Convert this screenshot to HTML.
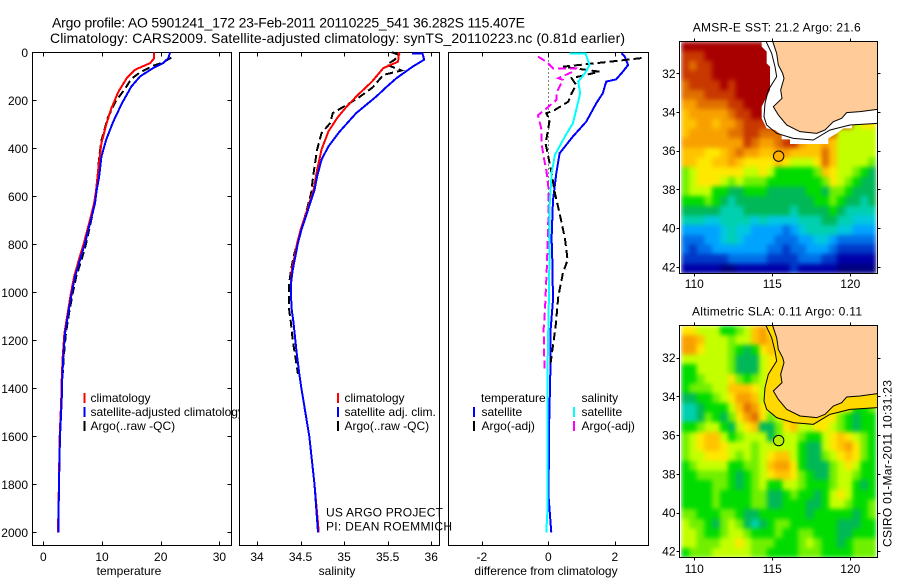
<!DOCTYPE html>
<html>
<head>
<meta charset="utf-8">
<title>Argo profile chart</title>
<style>
html,body{margin:0;padding:0;background:#fff;}
svg{display:block;}
text{font-family:"Liberation Sans",sans-serif;font-size:12px;fill:#000;}
</style>
</head>
<body>
<svg id="chart" xmlns="http://www.w3.org/2000/svg" width="900" height="580" viewBox="0 0 900 580">
<defs>
<filter id="soften" x="0" y="0" width="1" height="1" color-interpolation-filters="sRGB"><feGaussianBlur stdDeviation="2.4" edgeMode="duplicate"/></filter>
</defs>
<rect width="900" height="580" fill="#fff"/>
<g id="panels"></g>
<g id="maps"></g>
<text x="52" y="27.5" style="font-size:14px" textLength="473">Argo profile: AO 5901241_172 23-Feb-2011 20110225_541 36.282S 115.407E</text>
<text x="50" y="43" style="font-size:14px" textLength="575">Climatology: CARS2009. Satellite-adjusted climatology: synTS_20110223.nc (0.81d earlier)</text>
<text x="326" y="516.5" textLength="117">US ARGO PROJECT</text>
<text x="326" y="530.5" textLength="126">PI: DEAN ROEMMICH</text>
<text transform="translate(891.5,547) rotate(-90)" textLength="167">CSIRO 01-Mar-2011 10:31:23</text>
</svg>
<script>
// ---------- profile data ----------
const depthTicks = [0,200,400,600,800,1000,1200,1400,1600,1800,2000];
const tempTicks = [0,10,20,30];
const salTicks = [34,34.5,35,35.5,36];
const diffTicks = [-2,0,2];

const tempClimDepth = [0,25,45,73,108,164,233,303,380,477,574,629,685,740,796,865,935,1004,1086,1171,1268,1352,1450,1600,1800,2000];
const tempClimValue = [18.9,18.9,18.2,15.6,14.2,12.8,11.6,10.7,9.9,9.4,9.0,8.65,8.1,7.5,6.9,6.05,5.25,4.7,4.15,3.6,3.3,3.15,3.05,2.8,2.65,2.5];
const tempSatDepth = [0,25,45,66,100,143,212,289,365,435,520,574,629,685,740,796,865,935,1004,1086,1171,1268,1352,1450,1600,1800,2000];
const tempSatValue = [21.6,21.3,20.4,18.7,16.5,15,13.4,11.9,10.7,9.9,9.5,9.09,8.8,8.24,7.67,7.1,6.25,5.4,4.83,4.26,3.7,3.4,3.24,3.13,2.85,2.67,2.56];
const tempArgoDepth = [22,42,56,83,111,153,202,271,368,437,506,574,629,685,740,796,865,935,1004,1086,1171,1268,1340];
const tempArgoValue = [21.8,20.4,18.7,16.5,15,13.9,12.4,11,9.9,9.5,9.3,9.0,8.75,8.3,7.8,7.3,6.5,5.6,5.0,4.4,3.85,3.5,3.3];

const salClimDepth = [0,39,66,122,177,226,274,330,406,490,574,629,685,740,796,852,907,963,1018,1074,1129,1199,1268,1352,1400,1600,1800,2000];
const salClimValue = [35.63,35.62,35.45,35.32,35.16,35.03,34.92,34.82,34.74,34.69,34.65,34.6,34.55,34.5,34.46,34.43,34.40,34.39,34.39,34.40,34.42,34.44,34.46,34.49,34.51,34.6,34.66,34.71];
const salSatDepth = [4,6,31,59,108,150,184,253,330,392,448,517,574,629,685,740,796,852,907,963,1018,1074,1129,1199,1268,1352,1400,1600,1800,2000];
const salSatValue = [35.78,35.9,35.92,35.79,35.6,35.47,35.37,35.14,34.95,34.82,34.74,34.69,34.66,34.61,34.56,34.51,34.47,34.44,34.41,34.39,34.39,34.40,34.42,34.44,34.46,34.49,34.51,34.6,34.66,34.7];
const salArgoDepth = [0,11,31,52,76,94,146,191,243,253,295,337,406,503,590,685,740,796,852,907,963,1018,1074,1129,1199,1268,1340];
const salArgoValue = [35.55,35.63,35.58,35.49,35.66,35.45,35.33,35.16,34.92,34.87,34.84,34.74,34.69,34.65,34.62,34.55,34.5,34.46,34.42,34.39,34.37,34.37,34.37,34.39,34.41,34.44,34.47];

const diffTempSatDepth = [4,18,53,81,113,122,171,213,289,351,421,504,616,775,865,1032,1157,1338,1574,1852,1963,2000];
const diffTempSatValue = [2.2,2.3,2.4,2.24,2.04,1.74,1.64,1.44,1.14,0.74,0.34,0.24,0.14,0.1,0.12,0.14,0.07,0.06,0.02,0.01,0.07,0.09];
const diffSalSatDepth = [4,4,53,88,122,171,240,296,351,428,504,643,782,1000,1300,1600,1900,2000];
const diffSalSatValue = [0.64,1.12,1.24,1.1,0.9,0.96,0.84,0.74,0.5,0.2,0.1,0.04,0.04,0.02,-0.02,-0.02,-0.02,-0.06];
const diffTempArgoDepth = [24,40,60,81,108,136,171,206,240,254,282,317,380,435,504,587,671,775,865,920,1018,1143,1296];
const diffTempArgoValue = [2.8,1.8,0.44,1.54,0.7,0.84,0.7,0.6,0.2,-0.06,0.04,0,-0.08,0,0.1,0.2,0.34,0.5,0.58,0.44,0.3,0.22,0.07];
const diffSalArgoDepth = [18,39,67,67,81,108,115,171,199,234,262,324,380,435,490,560,700,879,1073,1157,1323];
const diffSalArgoValue = [-0.31,-0.06,0.14,0.84,0.74,0.3,0.44,0.24,0.24,-0.06,-0.31,-0.2,-0.2,-0.14,-0.06,0,0,-0.04,-0.1,-0.14,-0.11];

// ---------- map data (colour level per half-degree cell) ----------
const mapLonTicks = [110,115,120];
const mapLatTicks = [32,34,36,38,40,42];
const sstGrid = [
[16,16,16,16,16,16,16,16,16,16,16,16,16,16,16,16,16,16,16,16,16,16,16,16,16],
[15,15,15,16,16,16,16,16,16,16,16,16,16,16,16,16,16,16,16,16,16,16,16,16,16],
[15,14,15,15,16,16,16,16,16,16,16,16,16,16,16,16,16,16,16,16,16,16,16,16,16],
[15,15,15,15,16,16,16,16,16,16,16,16,16,16,16,16,16,16,16,16,16,16,16,16,16],
[14,15,15,15,15,16,15,16,16,16,16,16,16,16,16,16,16,16,16,16,16,16,16,16,16],
[14,14,14,15,15,15,15,16,16,16,16,16,16,16,16,16,16,16,16,16,16,16,16,16,16],
[13,13,14,14,14,14,15,15,16,16,16,16,16,16,16,16,16,16,16,16,16,16,16,16,16],
[12,13,13,13,13,13,14,15,15,16,16,16,16,16,16,16,16,16,16,16,16,16,16,16,16],
[12,12,13,13,12,13,13,14,15,15,15,15,15,15,15,15,15,15,15,15,15,15,10,11,11],
[12,13,13,13,13,13,14,14,15,15,14,14,14,14,14,14,14,14,14,14,10,10,10,10,10],
[13,13,13,13,13,13,13,13,15,14,13,13,14,15,15,13,12,12,13,12,10,10,10,10,10],
[12,12,12,11,11,12,13,14,13,13,12,12,13,13,12,12,12,12,14,12,10,10,10,10,10],
[12,12,11,11,12,12,13,12,11,11,11,11,12,11,10,10,10,11,14,12,10,10,10,10,9],
[9,10,11,11,11,11,11,11,10,10,11,10,8,8,8,8,8,9,12,11,10,10,9,8,7],
[9,10,11,11,11,10,9,10,9,9,9,8,8,8,8,8,8,8,9,11,10,9,8,7,7],
[9,10,10,10,8,8,7,7,8,8,8,7,7,7,7,7,8,8,7,9,9,8,7,7,7],
[8,8,8,9,8,7,6,7,7,7,7,7,7,7,7,7,7,8,8,9,8,7,7,6,7],
[7,7,7,7,7,6,6,6,7,7,7,7,7,7,6,7,7,7,7,8,7,6,6,6,6],
[6,6,6,5,5,6,6,6,6,5,6,5,5,5,5,6,6,6,7,7,6,6,5,5,5],
[4,4,4,4,4,5,6,5,5,4,4,4,4,3,4,5,6,6,6,6,5,5,4,4,4],
[3,3,3,4,4,5,6,5,4,4,4,4,3,3,3,4,4,5,5,4,3,3,3,3,3],
[3,2,3,3,4,4,4,4,4,4,4,3,3,2,3,3,4,4,4,3,2,2,2,2,2],
[2,2,2,2,2,2,3,3,3,3,3,2,2,2,2,3,3,3,2,2,1,1,1,1,1],
[1,1,1,1,1,0,0,1,1,1,1,1,1,1,2,1,1,1,1,1,0,0,0,0,0]
];
const slaGrid = [
[11,11,10,10,10,8,8,9,10,12,13,11,11,11,11,11,11,11,11,11,11,11,11,11,11],
[13,13,12,10,10,10,9,10,10,12,13,12,11,11,11,11,11,11,11,11,11,11,11,11,11],
[13,13,11,10,10,10,9,8,7,8,11,12,12,11,11,11,11,11,11,11,11,11,11,11,11],
[10,10,10,10,10,10,9,7,7,7,10,11,11,11,11,11,11,11,11,11,11,11,11,11,11],
[8,8,10,10,10,10,9,7,7,7,10,11,11,11,11,11,11,11,11,11,11,11,11,11,11],
[8,8,9,10,10,10,11,9,8,9,10,11,11,11,11,11,11,11,11,11,11,11,11,11,11],
[8,9,9,9,10,10,12,12,12,11,10,10,11,11,11,11,11,11,11,11,11,11,11,11,11],
[7,7,8,8,9,10,11,13,13,12,10,10,10,11,11,11,11,11,11,11,11,11,11,11,11],
[6,6,7,8,8,8,10,12,14,13,11,10,10,10,11,11,11,11,11,11,11,11,8,8,9],
[6,6,7,9,8,7,9,11,13,14,11,9,10,12,12,11,11,11,11,11,9,8,7,8,8],
[8,8,9,10,10,8,7,10,11,12,7,7,9,11,12,10,10,11,11,10,9,8,7,8,8],
[9,10,11,12,12,10,8,9,10,10,10,7,9,10,10,9,8,8,10,11,12,11,10,9,8],
[9,10,11,12,12,11,10,10,10,9,10,10,10,10,10,8,7,7,10,11,12,13,11,9,8],
[9,10,10,11,11,11,10,9,10,9,10,11,12,12,10,8,7,7,9,10,11,12,11,9,8],
[8,9,10,10,10,10,8,8,9,9,10,12,13,13,11,8,7,7,7,9,10,11,10,8,8],
[8,8,9,9,9,9,8,7,8,9,10,11,12,12,11,9,8,7,7,9,10,10,9,8,8],
[8,8,8,8,9,9,8,7,8,9,10,8,8,10,10,9,8,8,8,9,10,10,8,7,8],
[8,8,8,8,9,8,8,8,8,9,9,7,7,8,9,8,8,7,8,10,11,10,8,8,8],
[8,8,8,8,9,8,8,8,8,9,9,7,7,8,8,8,7,7,8,10,10,9,8,8,9],
[9,9,8,8,8,9,9,8,7,7,8,8,8,8,8,8,7,8,8,8,8,8,7,8,9],
[10,9,9,8,7,9,10,9,7,6,7,8,9,9,8,8,8,8,8,8,7,7,7,8,8],
[10,10,9,8,8,9,10,10,9,8,8,8,9,8,8,9,9,8,8,8,7,7,8,8,8],
[10,10,9,9,9,10,10,11,10,9,9,9,8,8,8,9,10,9,8,8,7,8,9,9,9],
[8,9,9,9,10,10,10,10,10,9,9,8,8,8,8,9,9,9,8,8,8,8,9,9,9]
];
const levelColours = ['#000080','#0000a8','#0038c8','#0070e8','#00a4ff','#00c8e0','#00d0b0','#00b858','#00dc00','#70f000','#c4ff00','#ffe800','#ffc400','#f8a000','#e07000','#c83800','#a80000'];

const NS = 'http://www.w3.org/2000/svg';
const panelsGroup = document.getElementById('panels');
const mapsGroup = document.getElementById('maps');

function make(parent, tag, attrs, content) {
  const el = document.createElementNS(NS, tag);
  for (const k in attrs) el.setAttribute(k, attrs[k]);
  if (content !== undefined) el.textContent = content;
  parent.appendChild(el);
  return el;
}

// ---------- axis functions ----------
const depthY = d => 52.3 + d * 0.24;
const tempX = t => 43.3 + t * 5.87;
const salX = s => 257 + (s - 34) * 87.1;
const diffX = v => 548.3 + v * 33.25;
const lonX = lon => 694.3 + (lon - 110) * 15.6;
const latYTop = lat => 73.3 + (lat - 32) * 19.35;
const latYBottom = lat => 357.7 + (lat - 32) * 19.35;

function drawFrame(g, x0, x1, y0, y1, name) {
  const el = make(g, 'rect', {x:x0, y:y0, width:x1-x0, height:y1-y0, fill:'#fff', stroke:'#000', 'stroke-width':1, 'shape-rendering':'crispEdges'});
  
  
}

function drawLine(g, depths, values, xFn, colour, dashed, name, width) {
  const pts = depths.map((d, i) => xFn(values[i]).toFixed(1) + ',' + depthY(d).toFixed(1)).join(' ');
  const attrs = {points:pts, fill:'none', stroke:colour, 'stroke-width':width || 2, 'shape-rendering':'crispEdges'};
  if (dashed) attrs['stroke-dasharray'] = '8 4';
  const el = make(g, 'polyline', attrs);
  
  
}

function drawPanel(id, x0, x1, xFn, ticks, label, labelX, showDepth) {
  const g = make(panelsGroup, 'g', {});
  
  
  drawFrame(g, x0, x1, 52.5, 545.5, id + '-frame');
  ticks.forEach(t => {
    const x = Math.round(xFn(t)) + 0.5;
    const tick = make(g, 'path', {d:`M${x} 52.5v4M${x} 545.5v-4`, stroke:'#000', 'stroke-width':1, 'shape-rendering':'crispEdges'});
    
    
    const txt = make(g, 'text', {x:xFn(t), y:561, 'text-anchor':'middle'}, String(t));
    
    
  });
  const xl = make(g, 'text', {x:labelX, y:575, 'text-anchor':'middle'}, label);
  
  
  if (showDepth) {
    depthTicks.forEach(d => {
      const y = Math.round(depthY(d)) + 0.5;
      const tick = make(g, 'path', {d:`M${x0} ${y}h4M${x1} ${y}h-4`, stroke:'#000', 'stroke-width':1, 'shape-rendering':'crispEdges'});
      
      
      const txt = make(g, 'text', {x:28, y:depthY(d) + 4.5, 'text-anchor':'end'}, String(d));
      
      
    });
  }
  return g;
}

function legendEntry(g, barX, textX, baseline, colour, label, name) {
  if (colour) {
    const bar = make(g, 'rect', {x:barX, y:baseline - 9, width:2, height:10, fill:colour, 'shape-rendering':'crispEdges'});
    
    
  }
  const t = make(g, 'text', {x:textX, y:baseline}, label);
  
  
}

// ---------- temperature panel ----------
const p1 = drawPanel('temperature', 32.5, 231.5, tempX, tempTicks, 'temperature', 129, true);
legendEntry(p1, 83.5, 90.5, 402, '#f00', 'climatology', 'temperature-legend-climatology');
legendEntry(p1, 83.5, 90.5, 416, '#00f', 'satellite-adjusted climatology', 'temperature-legend-satellite');
legendEntry(p1, 83.5, 90.5, 430, '#000', 'Argo(..raw -QC)', 'temperature-legend-argo');
drawLine(p1, tempArgoDepth, tempArgoValue, tempX, '#000', true, 'temperature-argo-line');
drawLine(p1, tempClimDepth, tempClimValue, tempX, '#f00', false, 'temperature-climatology-line');
drawLine(p1, tempSatDepth, tempSatValue, tempX, '#00f', false, 'temperature-satellite-line');

// ---------- salinity panel ----------
const p2 = drawPanel('salinity', 239.5, 439.5, salX, salTicks, 'salinity', 337, false);
legendEntry(p2, 337, 344.5, 402, '#f00', 'climatology', 'salinity-legend-climatology');
legendEntry(p2, 337, 344.5, 416, '#00f', 'satellite adj. clim.', 'salinity-legend-satellite');
legendEntry(p2, 337, 344.5, 430, '#000', 'Argo(..raw -QC)', 'salinity-legend-argo');
drawLine(p2, salArgoDepth, salArgoValue, salX, '#000', true, 'salinity-argo-line');
drawLine(p2, salClimDepth, salClimValue, salX, '#f00', false, 'salinity-climatology-line');
drawLine(p2, salSatDepth, salSatValue, salX, '#00f', false, 'salinity-satellite-line');

// ---------- difference panel ----------
const p3 = drawPanel('difference', 448.5, 648.5, diffX, diffTicks, 'difference from climatology', 546, false);
const zeroLine = make(p3, 'line', {x1:diffX(0), x2:diffX(0), y1:depthY(0), y2:depthY(780), stroke:'#000', 'stroke-width':1, 'stroke-dasharray':'1 3', 'shape-rendering':'crispEdges'});


legendEntry(p3, 0, 481, 402, null, 'temperature', 'difference-legend-temperature-heading');
legendEntry(p3, 473, 481.5, 416, '#00f', 'satellite', 'difference-legend-temperature-satellite');
legendEntry(p3, 473, 481.5, 430, '#000', 'Argo(-adj)', 'difference-legend-temperature-argo');
legendEntry(p3, 0, 581.5, 402, null, 'salinity', 'difference-legend-salinity-heading');
legendEntry(p3, 573, 581.5, 416, '#0ff', 'satellite', 'difference-legend-salinity-satellite');
legendEntry(p3, 573, 581.5, 430, '#f0f', 'Argo(-adj)', 'difference-legend-salinity-argo');
drawLine(p3, diffTempSatDepth, diffTempSatValue, diffX, '#00f', false, 'difference-temperature-satellite-line');
drawLine(p3, diffTempArgoDepth, diffTempArgoValue, diffX, '#000', true, 'difference-temperature-argo-line');
drawLine(p3, diffSalArgoDepth, diffSalArgoValue, diffX, '#f0f', true, 'difference-salinity-argo-line');
drawLine(p3, diffSalSatDepth, diffSalSatValue, diffX, '#0ff', false, 'difference-salinity-satellite-line');

// ---------- maps ----------
const landShape = '338,94 350,130 355,165 368,190 372,205 362,240 366,265 340,290 355,315 380,345 420,365 470,370 495,360 520,335 545,325 560,308 600,305 652,298 652,94';
const contourShape = '318,94 335,130 345,170 350,200 325,240 315,280 312,320 320,345 350,370 400,385 460,390 510,360 570,345 652,340';
const whiteShape = '305,94 305,110 320,125 320,160 330,170 330,240 305,290 305,325 320,355 345,360 365,375 365,388 390,388 390,402 505,402 505,385 530,370 550,355 575,355 578,345 652,340 652,94';

function drawMap(id, grid, frameTop, frameBottom, latY, offsetY, title, titleBaseline, titleX, titleLen, labelBaseline, maskFill, markerY, markerFill) {
  const g = make(mapsGroup, 'g', {});
  
  
  const t = make(g, 'text', {x:titleX, y:titleBaseline, textLength:titleLen}, title);
  
  
  const cellsG = make(g, 'g', {'shape-rendering':'crispEdges', filter:'url(#soften)'});
  
  
  const left = 109.15, cellLon = 0.5, rowH = (frameBottom - frameTop) / grid.length;
  grid.forEach((row, r) => {
    row.forEach((v, c) => {
      const x0 = lonX(left + c * cellLon);
      const x1 = lonX(left + (c + 1) * cellLon);
      const cell = make(cellsG, 'rect', {x:x0.toFixed(2), y:(frameTop + r * rowH).toFixed(2), width:(x1 - x0 + 0.4).toFixed(2), height:(rowH + 0.4).toFixed(2), fill:levelColours[v]});
      
      
    });
  });
  const overlay = make(g, 'g', {transform:`translate(660,${offsetY}) scale(0.33333)`});
  
  
  const mask = make(overlay, 'polygon', {points:maskFill.shape, fill:maskFill.colour});
  
  
  const land = make(overlay, 'polygon', {points:landShape, fill:'#ffcc99'});
  
  
  const coast = make(overlay, 'polyline', {points:landShape.split(' ').slice(0, -1).join(' '), fill:'none', stroke:'#000', 'stroke-width':3});
  
  
  const contour = make(overlay, 'polyline', {points:contourShape, fill:'none', stroke:'#000', 'stroke-width':3});
  
  
  const frame = make(g, 'rect', {x:679.5, y:frameTop, width:198, height:frameBottom - frameTop, fill:'none', stroke:'#000', 'stroke-width':1, 'shape-rendering':'crispEdges'});
  
  
  mapLonTicks.forEach(lon => {
    const x = Math.round(lonX(lon)) + 0.5;
    const tick = make(g, 'path', {d:`M${x} ${frameTop}v-3M${x} ${frameBottom}v3`, stroke:'#000', 'shape-rendering':'crispEdges'});
    
    
    const txt = make(g, 'text', {x:lonX(lon), y:labelBaseline, 'text-anchor':'middle'}, String(lon));
    
    
  });
  mapLatTicks.forEach(lat => {
    const y = Math.round(latY(lat)) + 0.5;
    const tick = make(g, 'path', {d:`M679.5 ${y}h-3M877.5 ${y}h3`, stroke:'#000', 'shape-rendering':'crispEdges'});
    
    
    const txt = make(g, 'text', {x:675.5, y:latY(lat) + 4.5, 'text-anchor':'end'}, String(lat));
    
    
  });
  const marker = make(g, 'circle', {cx:lonX(115.407), cy:markerY, r:5.2, fill:markerFill, stroke:'#000', 'stroke-width':1});
  
  
}

drawMap('sst', sstGrid, 41.5, 273.5, latYTop, 10, 'AMSR-E SST: 21.2 Argo: 21.6', 31.5, 692.7, 168, 288,
  {shape:whiteShape, colour:'#fff'}, latYTop(36.282), '#ffb000');
drawMap('sla', slaGrid, 325.5, 557.5, latYBottom, 294.33, 'Altimetric SLA: 0.11 Argo: 0.11', 315.5, 692, 170, 573,
  {shape:'318,92 335,130 345,170 350,200 325,240 315,280 312,320 320,345 350,370 400,385 460,390 510,360 570,345 652,340 652,94 338,94', colour:'#ffd800'}, latYBottom(36.282), '#b4f000');
</script>
</body>
</html>
